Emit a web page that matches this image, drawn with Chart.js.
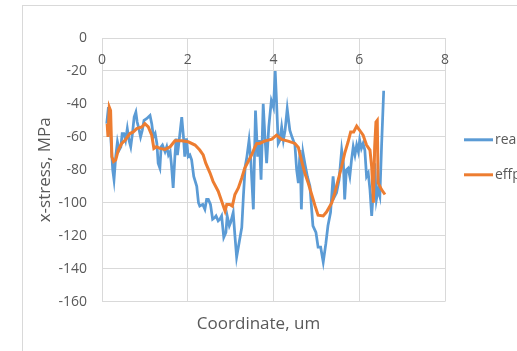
<!DOCTYPE html>
<html>
<head>
<meta charset="utf-8">
<script src="https://cdn.jsdelivr.net/npm/chart.js@4"></script>
<style>
    html, body { margin: 0; padding: 0; background: #fff; overflow: hidden; }
    #frame {
        position: absolute; left: 22px; top: 5px; width: 520px; height: 360px;
        border-left: 1px solid #d9d9d9; border-top: 1px solid #d9d9d9;
    }
    #chart { position: absolute; left: 0; top: 0; }
</style>
</head>
<body>
<div id="frame"></div>
<canvas id="chart" width="517" height="351"></canvas>
<script>
// series names (legend is cut by the picture edge)
const seriesNames = ['real', 'effp'];

// blue series: coordinate (um) and x-stress (MPa)
const realX = [0.11, 0.15, 0.20, 0.25, 0.28, 0.32, 0.36, 0.40, 0.44, 0.47, 0.51, 0.55, 0.59, 0.63, 0.67, 0.71,
    0.75, 0.79, 0.82, 0.86, 0.90, 0.94, 0.98, 1.04, 1.12, 1.16, 1.20, 1.24, 1.28, 1.31, 1.35, 1.38, 1.41,
    1.47, 1.51, 1.55, 1.59, 1.62, 1.66, 1.70, 1.73, 1.76, 1.80, 1.86, 1.90, 1.93, 1.97, 2.01, 2.05, 2.09,
    2.14, 2.21, 2.25, 2.28, 2.35, 2.40, 2.44, 2.48, 2.53, 2.58, 2.63, 2.66, 2.71, 2.75, 2.79, 2.84, 2.89,
    2.92, 2.97, 3.00, 3.04, 3.06, 3.10, 3.14, 3.20, 3.26, 3.30, 3.34, 3.38, 3.43, 3.47, 3.53, 3.58, 3.63,
    3.67, 3.71, 3.76, 3.80, 3.84, 3.89, 3.95, 4.00, 4.04, 4.07, 4.11, 4.15, 4.19, 4.23, 4.27, 4.32, 4.38,
    4.43, 4.46, 4.50, 4.54, 4.58, 4.62, 4.65, 4.69, 4.73, 4.79, 4.85, 4.89, 4.92, 4.99, 5.04, 5.10, 5.16,
    5.22, 5.27, 5.33, 5.39, 5.43, 5.47, 5.53, 5.59, 5.63, 5.66, 5.70, 5.74, 5.78, 5.82, 5.86, 5.90, 5.94,
    5.98, 6.01, 6.05, 6.09, 6.13, 6.17, 6.21, 6.25, 6.29, 6.33, 6.36, 6.40, 6.44, 6.48, 6.52, 6.57];
const realY = [-52, -42, -58, -80, -86, -72, -63, -68, -66, -58, -58, -62, -55, -62, -66, -58,
    -48, -45, -51, -55, -60, -56, -50, -49, -47, -52, -60, -58, -64, -76, -79, -66, -65,
    -69, -66, -71, -69, -77, -91, -72, -61, -71, -62, -48, -60, -72, -61, -72, -71, -74,
    -84, -90, -100, -102, -101, -104, -98, -98, -101, -110, -109, -108, -111, -110, -108, -121, -118,
    -108, -114, -112, -108, -106, -120, -133, -124, -115, -95, -78, -72, -62, -74, -104, -44, -72,
    -62, -86, -40, -60, -76, -54, -38, -42, -20, -38, -64, -62, -54, -62, -56, -43, -56,
    -60, -62, -65, -80, -88, -68, -104, -70, -76, -84, -90, -104, -114, -118, -127, -127, -136,
    -125, -114, -106, -84, -96, -94, -86, -68, -76, -98, -80, -79, -84, -74, -66, -71, -65,
    -69, -62, -67, -64, -68, -84, -82, -92, -108, -92, -76, -98, -92, -96, -66, -32];

// orange series
const effX = [0.12, 0.14, 0.17, 0.20, 0.23, 0.27, 0.32, 0.38, 0.46, 0.54, 0.65, 0.73, 0.81, 0.93, 1.00, 1.08,
    1.16, 1.21, 1.27, 1.35, 1.47, 1.59, 1.70, 1.86, 2.01, 2.17, 2.28, 2.36, 2.42, 2.52, 2.59, 2.71, 2.79,
    2.87, 2.91, 2.98, 3.04, 3.10, 3.18, 3.26, 3.33, 3.41, 3.49, 3.57, 3.61, 3.68, 3.80, 3.88, 3.96, 4.07,
    4.19, 4.34, 4.50, 4.58, 4.65, 4.73, 4.81, 4.89, 4.97, 5.04, 5.16, 5.24, 5.36, 5.43, 5.51, 5.59, 5.66,
    5.74, 5.80, 5.87, 5.94, 6.01, 6.09, 6.17, 6.25, 6.29, 6.33, 6.36, 6.39, 6.42, 6.44, 6.52, 6.60];
const effY = [-52, -60, -42, -44, -72, -75, -74, -68, -64, -62, -58, -57, -55, -54, -52, -54,
    -59, -67, -66, -67, -67.6, -66, -62.4, -62.4, -63, -65, -68, -71, -76, -82, -87, -93, -99,
    -105, -101, -101, -102, -95, -91, -85, -79, -75, -71, -66, -64, -64, -62.5, -62, -61.4, -59,
    -61.6, -62.6, -64, -66.4, -74, -82, -88, -95, -102, -107.5, -108, -105.5, -100, -94, -86, -78, -70,
    -63, -57, -57, -53.5, -56, -59, -65, -68, -78, -100, -66, -51, -50, -88, -92, -95];

// axis ticks
const xTicks = [0, 2, 4, 6, 8];
const yTicks = [0, -20, -40, -60, -80, -100, -120, -140, -160];

const colors = ['#5B9BD5', '#ED7D31'];
const gridColor = '#d9d9d9';
const textColor = '#595959';
const fontFamily = "'Open Sans', 'Noto Sans', sans-serif";

const toPoints = (xs, ys) => xs.map((x, i) => ({ x: x, y: ys[i] }));

// hand drawn legend to the right of the plot, partly cut by the canvas edge
const sideLegend = {
    id: 'sideLegend',
    afterDraw(chart) {
        const { ctx, chartArea } = chart;
        const midY = (chartArea.top + chartArea.bottom) / 2;
        ctx.save();
        ctx.font = '14px ' + fontFamily;
        ctx.textBaseline = 'middle';
        ctx.textAlign = 'left';
        chart.data.datasets.forEach((ds, i) => {
            const y = midY - 30 + i * 35;
            const x0 = chartArea.right + 19;
            ctx.strokeStyle = ds.borderColor;
            ctx.lineWidth = 3;
            ctx.beginPath();
            ctx.moveTo(x0, y);
            ctx.lineTo(x0 + 29, y);
            ctx.stroke();
            ctx.fillStyle = textColor;
            ctx.fillText(ds.label, x0 + 31, y);
        });
        ctx.restore();
    }
};

new Chart(document.getElementById('chart').getContext('2d'), {
    type: 'line',
    data: {
        datasets: [{
            label: seriesNames[0],
            data: toPoints(realX, realY),
            borderColor: colors[0],
            backgroundColor: colors[0],
            borderWidth: 2.75,
            pointRadius: 0,
            fill: false,
            order: 1
        }, {
            label: seriesNames[1],
            data: toPoints(effX, effY),
            borderColor: colors[1],
            backgroundColor: colors[1],
            borderWidth: 3,
            pointRadius: 0,
            fill: false,
            order: 0
        }]
    },
    options: {
        responsive: false,
        animation: false,
        devicePixelRatio: 1,
        layout: { padding: { left: 0, right: 0, top: 38, bottom: 0 } },
        plugins: {
            legend: { display: false },
            tooltip: { enabled: false },
            title: {
                display: true,
                position: 'bottom',
                text: 'Coordinate, um',
                color: textColor,
                font: { family: fontFamily, size: 17, weight: 'normal' },
                padding: { top: 12, bottom: 17 }
            }
        },
        scales: {
            x: {
                type: 'linear',
                position: { y: 0 },
                min: 0,
                max: 8,
                afterBuildTicks: s => { s.ticks = xTicks.map(v => ({ value: v })); },
                grid: { color: gridColor, drawTicks: false },
                border: { display: false },
                ticks: { color: textColor, padding: 14, font: { family: fontFamily, size: 14 } }
            },
            y: {
                type: 'linear',
                position: 'left',
                min: -160,
                max: 0,
                afterBuildTicks: s => { s.ticks = yTicks.map(v => ({ value: v })); },
                afterFit: s => { s.width = 102; },
                grid: { color: gridColor, drawTicks: false },
                border: { display: false },
                ticks: { color: textColor, padding: 15, font: { family: fontFamily, size: 14 } },
                title: {
                    display: true,
                    text: 'x-stress, MPa',
                    color: textColor,
                    font: { family: fontFamily, size: 17 },
                    padding: { top: 35, bottom: 0 }
                }
            },
            yr: {
                type: 'linear',
                position: 'right',
                display: true,
                afterFit: s => { s.width = 72; },
                grid: { display: false },
                border: { display: false },
                ticks: { display: false }
            }
        }
    },
    plugins: [sideLegend]
});
</script>
</body>
</html>
